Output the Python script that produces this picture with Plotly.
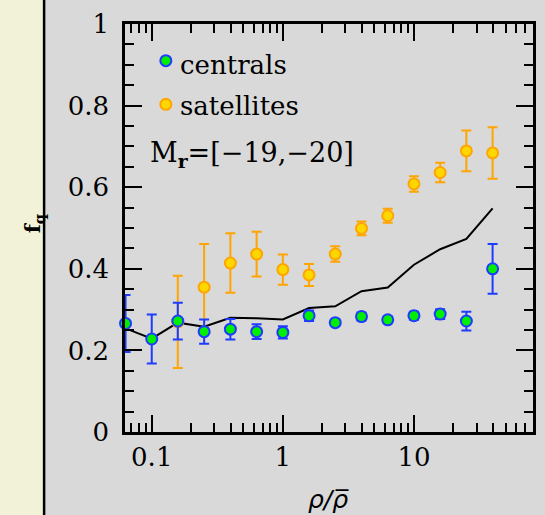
import plotly.graph_objects as go

# ---- data ----
rho = [0.0631, 0.1, 0.158, 0.251, 0.398, 0.631, 1.0, 1.585, 2.51, 3.98, 6.31, 10.0, 15.85, 25.1, 39.8]

cen_f = [0.266, 0.228, 0.272, 0.246, 0.252, 0.246, 0.244, 0.285, 0.268, 0.283, 0.275, 0.285, 0.289, 0.272, 0.400]
cen_err = [0.070, 0.060, 0.045, 0.030, 0.025, 0.018, 0.015, 0.013, 0.008, 0.010, 0.008, 0.010, 0.012, 0.023, 0.061]

sat_rho = [0.158, 0.251, 0.398, 0.631, 1.0, 1.585, 2.51, 3.98, 6.31, 10.0, 15.85, 25.1, 39.8]
sat_f = [0.270, 0.355, 0.414, 0.436, 0.398, 0.385, 0.436, 0.499, 0.530, 0.608, 0.636, 0.689, 0.684]
sat_err = [0.113, 0.106, 0.073, 0.055, 0.037, 0.027, 0.019, 0.017, 0.017, 0.019, 0.024, 0.050, 0.063]

line_f = [0.254, 0.229, 0.268, 0.258, 0.280, 0.279, 0.276, 0.304, 0.308, 0.345, 0.354, 0.410, 0.448, 0.473, 0.548]

x_major = [0.1, 1, 10]
x_major_text = ["0.1", "1", "10"]
x_minor = [0.07, 0.08, 0.09] + [d * k for d in [0.1, 1, 10] for k in range(2, 10)]

legend_labels = ["centrals", "satellites"]

SERIF = "DejaVu Serif"
GRAY = "#d9d9d9"
BEIGE = "#f2f2d8"

fig = go.Figure()

fig.add_trace(go.Scatter(
    x=rho, y=line_f, mode="lines",
    line=dict(color="black", width=2),
    showlegend=False, hoverinfo="skip"))

fig.add_trace(go.Scatter(
    x=sat_rho, y=sat_f, mode="markers", name=" ",
    marker=dict(size=11, color="#ffd700", line=dict(color="#ffa500", width=2)),
    error_y=dict(type="data", array=sat_err, color="#ffa500", thickness=2, width=5),
    legend="legend2", cliponaxis=False))

fig.add_trace(go.Scatter(
    x=rho, y=cen_f, mode="markers", name=" ",
    marker=dict(size=11, color="#00ee00", line=dict(color="#1e3cff", width=2)),
    error_y=dict(type="data", array=cen_err, color="#1e3cff", thickness=2, width=5),
    legend="legend", cliponaxis=False))

axis_common = dict(
    showline=True, linecolor="black", linewidth=2.5, mirror="ticks",
    ticks="inside", tickcolor="black", tickwidth=2, ticklen=17,
    showgrid=False, zeroline=False,
    tickfont=dict(family=SERIF, size=26, color="black"),
)

fig.update_xaxes(
    type="log", range=[-1.204, 1.908],
    tickmode="array", tickvals=x_major, ticktext=x_major_text,
    minor=dict(tickmode="array", tickvals=x_minor, ticks="inside", ticklen=9,
               tickwidth=2, tickcolor="black", showgrid=False),
    ticklabelstandoff=0,
    **axis_common)

fig.update_yaxes(
    range=[0, 1],
    tickmode="array", tickvals=[0, 0.2, 0.4, 0.6, 0.8, 1.0],
    ticktext=["0", "0.2", "0.4", "0.6", "0.8", "1"],
    minor=dict(tickmode="linear", tick0=0, dtick=0.05, ticks="inside", ticklen=9, tickwidth=2,
               tickcolor="black", showgrid=False),
    ticklabelstandoff=8,
    **axis_common)

L, R, T, B = 125, 9, 21, 83
W = 545 - L - R
H = 515 - T - B

def px_x(p):
    return (p - L) / W

def px_y(p):
    return (515 - B - p) / H

legend_font = dict(family=SERIF, size=25, color="black")

fig.update_layout(
    width=545, height=515,
    margin=dict(l=L, r=R, t=T, b=B, pad=0),
    font=dict(family=SERIF, color="black"),
    paper_bgcolor=GRAY, plot_bgcolor=GRAY,
    legend=dict(x=px_x(146), y=px_y(35), xanchor="left", yanchor="top",
                bgcolor="rgba(0,0,0,0)", font=legend_font,
                itemwidth=30, tracegroupgap=0),
    legend2=dict(x=px_x(146), y=px_y(79), xanchor="left", yanchor="top",
                 bgcolor="rgba(0,0,0,0)", font=legend_font,
                 itemwidth=30, tracegroupgap=0),
    shapes=[
        dict(type="rect", xref="paper", yref="paper",
             x0=px_x(-5), x1=px_x(43.5), y0=px_y(520), y1=px_y(-5),
             fillcolor=BEIGE, line=dict(width=0), layer="below"),
        dict(type="line", xref="paper", yref="paper",
             x0=px_x(43.5), x1=px_x(43.5), y0=px_y(520), y1=px_y(-5),
             line=dict(color="black", width=2.5), layer="below"),
    ],
    annotations=[
        dict(text=legend_labels[0], xref="paper", yref="paper",
             x=px_x(178), y=px_y(62), xanchor="left", yanchor="middle",
             showarrow=False, font=dict(family=SERIF, size=26, color="black")),
        dict(text=legend_labels[1], xref="paper", yref="paper",
             x=px_x(178), y=px_y(104), xanchor="left", yanchor="middle",
             showarrow=False, font=dict(family=SERIF, size=26, color="black")),
        dict(text="M<sub><b>r</b></sub>=[\u221219,\u221220]", xref="paper", yref="paper",
             x=px_x(148), y=px_y(152), xanchor="left", yanchor="middle",
             showarrow=False, font=dict(family=SERIF, size=27, color="black")),
        dict(text="<b>f<sub>q</sub></b>", xref="paper", yref="paper",
             x=px_x(33), y=px_y(222), xanchor="center", yanchor="middle", textangle=-90,
             showarrow=False, font=dict(family=SERIF, size=21, color="black")),
        dict(text="<i>\u03c1/\u03c1\u0305</i>", xref="paper", yref="paper",
             x=px_x(330), y=px_y(500), xanchor="center", yanchor="middle",
             showarrow=False, font=dict(family="DejaVu Sans", size=25, color="black")),
    ],
)

fig.write_html("out.html")
